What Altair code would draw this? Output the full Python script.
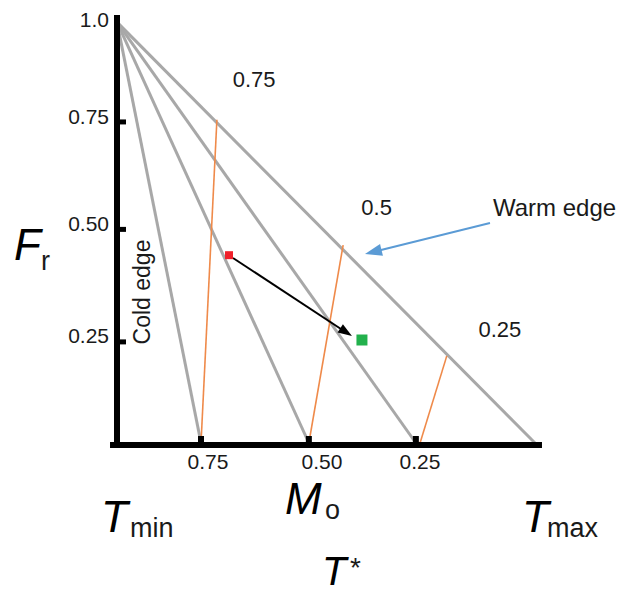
import altair as alt
import pandas as pd

# ---- diagram values (chart units: x = T*, 0 at left axis, 1 at T_max; y = F_r) ----
apex_x, apex_y = 0.0, 0.995
gray_foot_x = [0.201, 0.459, 0.715, 1.0]          # M_o = 0.75, 0.50, 0.25, 0

orange_x0 = [0.201, 0.459, 0.725]
orange_x1 = [0.239, 0.541, 0.789]
orange_y1 = [0.764, 0.468, 0.206]

y_tick_pos = [0.239, 0.505, 0.759]
y_label_pos = [0.2506, 0.5165, 0.7695, 0.9965]
y_labels = ["0.25", "0.50", "0.75", "1.0"]

x_tick_pos = [0.201, 0.459, 0.715]
x_label_pos = [0.2177, 0.4904, 0.7249]
x_labels = ["0.75", "0.50", "0.25"]

iso_labels = ["0.75", "0.5", "0.25"]
iso_x = [0.328, 0.621, 0.916]
iso_y = [0.857, 0.556, 0.266]

red_pt = [0.268, 0.444]
green_pt = [0.586, 0.2435]

black_arrow = [0.2775, 0.4374, 0.5376, 0.2683]   # x, y, x2, y2
black_head = [0.5481, 0.2620, 123]
blue_arrow = [0.8923, 0.5201, 0.6268, 0.4551]
blue_head = [0.6130, 0.4517, 256]

FONT = "Liberation Sans"
xs = alt.Scale(domain=[0, 1], nice=False, zero=False)
ys = alt.Scale(domain=[0, 1], nice=False, zero=False)


def X(f="x"):
    return alt.X(f"{f}:Q", scale=xs, axis=None)


def Y(f="y"):
    return alt.Y(f"{f}:Q", scale=ys, axis=None)


def segs(x, y, x2, y2, color, width):
    df = pd.DataFrame({"x": x, "y": y, "x2": x2, "y2": y2})
    return alt.Chart(df).mark_rule(color=color, strokeWidth=width).encode(
        x=X(), y=Y(), x2="x2:Q", y2="y2:Q")


def texts(x, y, t, size, align="center", baseline="middle", style="normal",
          angle=0, color="#1a1a1a"):
    df = pd.DataFrame({"x": x, "y": y, "t": t})
    return alt.Chart(df).mark_text(font=FONT, fontSize=size, align=align,
                                   baseline=baseline, fontStyle=style,
                                   angle=angle, color=color).encode(
        x=X(), y=Y(), text="t:N")


n = len(gray_foot_x)
gray = segs([apex_x] * n, [apex_y] * n, gray_foot_x, [0.0] * n, "#a8a8a8", 3)
orange = segs(orange_x0, [0.0] * 3, orange_x1, orange_y1, "#ef8a4a", 1.6)

axes = segs([0.0, -0.0167], [-0.012, -0.0047], [0.0, 1.0167], [1.012, -0.0047],
            "black", 6)
yticks = segs([0.0] * 3, y_tick_pos, [0.0215] * 3, y_tick_pos, "black", 5)
xticks = segs(x_tick_pos, [0.0] * 3, x_tick_pos, [0.0165] * 3, "black", 6)

ylab = texts([-0.0191] * 4, y_label_pos, y_labels, 21, align="right")
xlab = texts(x_label_pos, [-0.0473] * 3, x_labels, 21)
isolab = texts(iso_x, iso_y, iso_labels, 22)
warm = texts([0.8995], [0.5366], ["Warm edge"], 24,
             align="left", baseline="alphabetic")
cold = texts([0.0622], [0.357], ["Cold edge"], 23, angle=270)

barrow = segs([black_arrow[0]], [black_arrow[1]], [black_arrow[2]],
              [black_arrow[3]], "black", 2)
bhead = alt.Chart(pd.DataFrame({"x": [black_head[0]], "y": [black_head[1]],
                                "a": [black_head[2]]})).mark_point(
    shape="M0,-1L0.7,1L-0.7,1Z", size=196, filled=True, color="black",
    opacity=1).encode(x=X(), y=Y(), angle=alt.Angle("a:Q", scale=None))
warrow = segs([blue_arrow[0]], [blue_arrow[1]], [blue_arrow[2]],
              [blue_arrow[3]], "#5b9bd5", 2)
whead = alt.Chart(pd.DataFrame({"x": [blue_head[0]], "y": [blue_head[1]],
                                "a": [blue_head[2]]})).mark_point(
    shape="M0,-1L0.7,1L-0.7,1Z", size=289, filled=True, color="#5b9bd5",
    opacity=1).encode(x=X(), y=Y(), angle=alt.Angle("a:Q", scale=None))

red = alt.Chart(pd.DataFrame({"x": [red_pt[0]], "y": [red_pt[1]]})).mark_square(
    size=64, color="#f0202a", opacity=1).encode(x=X(), y=Y())
green = alt.Chart(pd.DataFrame({"x": [green_pt[0]], "y": [green_pt[1]]})).mark_square(
    size=121, color="#22b14c", opacity=1).encode(x=X(), y=Y())

# big symbol labels
big_it = texts([-0.2464, -0.0383, 0.4019, 0.9689],
               [0.4326, -0.2104, -0.1678, -0.2104],
               ["F", "T", "M", "T"], 44, align="left",
               baseline="alphabetic", style="italic", color="black")
tstar = texts([0.4904], [-0.3357], ["T"], 40, align="left",
              baseline="alphabetic", style="italic", color="black")
subs = texts([-0.1818, 0.0311, 0.4976, 1.0287],
             [0.4090, -0.2222, -0.1797, -0.2222],
             ["r", "min", "o", "max"], 27, align="left", baseline="alphabetic",
             color="#1a1a1a")
star = texts([0.5574], [-0.3167], ["*"], 28, align="left",
             baseline="alphabetic")

chart = alt.layer(gray, orange, axes, yticks, xticks, ylab, xlab, isolab,
                  warm, cold, barrow, bhead, warrow, whead, red, green,
                  big_it, tstar, subs, star).properties(
    width=418, height=423,
    padding={"left": 117, "top": 20, "right": 84, "bottom": 147},
    autosize="none",
    background="white",
).configure_view(stroke=None)

chart.save("out.html", embed_options={"renderer": "svg", "actions": False})
